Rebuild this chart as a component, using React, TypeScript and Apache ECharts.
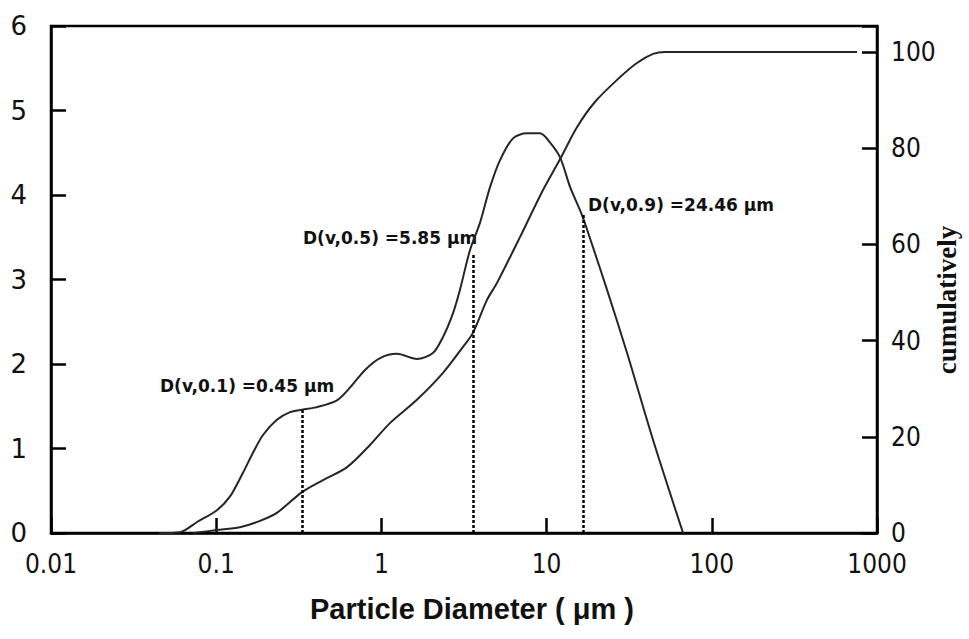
import React, { useEffect, useRef } from "react";
import * as echarts from "echarts";

// Particle size distribution (volume %, left axis)
const diamDist = [0.045, 0.0604, 0.0766, 0.101, 0.121, 0.145, 0.167, 0.192, 0.233, 0.28, 0.331, 0.407, 0.538, 0.645, 0.796, 0.982, 1.24, 1.64, 2.05, 2.36, 2.71, 2.99, 3.44, 3.95, 4.54, 5.22, 6.26, 7.61, 9.12, 10.5, 12.1, 13.9, 16.4, 19.1, 23.2, 30.7, 44.1, 67.0];
const volume = [0, 0.01, 0.13, 0.27, 0.43, 0.71, 0.95, 1.16, 1.34, 1.43, 1.46, 1.49, 1.57, 1.72, 1.93, 2.07, 2.12, 2.06, 2.13, 2.32, 2.6, 2.88, 3.35, 3.67, 4.09, 4.41, 4.67, 4.73, 4.73, 4.62, 4.44, 4.09, 3.76, 3.38, 2.88, 2.13, 1.1, 0];

// Cumulative curve (right axis)
const diamCum = [0.0724, 0.101, 0.139, 0.177, 0.233, 0.331, 0.443, 0.62, 0.853, 1.13, 1.64, 2.36, 3.12, 3.58, 4.35, 5.01, 6.9, 9.51, 12.1, 15.3, 19.6, 26.7, 35.2, 44.1, 52.1, 757];
const cumulative = [0, 0.6, 1.2, 2.3, 4.2, 8.5, 11.0, 13.7, 18.3, 22.9, 27.7, 33.3, 38.7, 41.6, 48.4, 52.0, 61.5, 71.3, 77.8, 84.4, 89.6, 94.2, 97.7, 99.6, 100, 100];

// Dashed marker lines: [diameter, height on left axis]
const markerX = [0.33, 3.58, 16.6];
const markerY = [1.46, 3.31, 3.78];
const markerLabels = ["D(v,0.1) =0.45 μm", "D(v,0.5) =5.85 μm", "D(v,0.9) =24.46 μm"];

const xTickLabels = ["0.01", "0.1", "1", "10", "100", "1000"];

const NARROW = '"DejaVu Sans Condensed", "Liberation Sans Narrow", sans-serif';

export default function App() {
  const ref = useRef<HTMLDivElement>(null);
  useEffect(() => {
    if (!ref.current) return;
    const chart = echarts.init(ref.current, null, { renderer: "svg" });
    const labelPos = [
      { x: 160, y: 386 },
      { x: 303, y: 238 },
      { x: 588, y: 205 },
    ];
    chart.setOption({
      animation: false,
      backgroundColor: "#ffffff",
      grid: {
        left: 51,
        right: 92,
        top: 26,
        bottom: 106,
        show: true,
        borderColor: "#000",
        borderWidth: 2.5,
        backgroundColor: "transparent",
      },
      xAxis: {
        type: "log",
        logBase: 10,
        min: 0.01,
        max: 1000,
        axisLine: { show: true, lineStyle: { color: "#000", width: 2.5 } },
        axisTick: { show: true, inside: true, length: 15, lineStyle: { color: "#000", width: 2.5 } },
        minorTick: { show: false },
        splitLine: { show: false },
        axisLabel: {
          color: "#111",
          fontFamily: NARROW,
          fontSize: 26,
          margin: 18,
          formatter: (v: number) => {
            const l = Math.round(Math.log10(v));
            return xTickLabels[l + 2] ?? "";
          },
        },
      },
      yAxis: [
        {
          type: "value",
          position: "left",
          min: 0,
          max: 6,
          interval: 1,
          axisLine: { show: true, lineStyle: { color: "#000", width: 2.5 } },
          axisTick: { show: true, inside: true, length: 15, lineStyle: { color: "#000", width: 2.5 } },
          splitLine: { show: false },
          axisLabel: { color: "#111", fontFamily: '"DejaVu Sans", Verdana, sans-serif', fontSize: 26, margin: 24 },
        },
        {
          type: "value",
          position: "right",
          min: 0,
          max: 105.4,
          interval: 20,
          axisLine: { show: true, lineStyle: { color: "#000", width: 2.5 } },
          axisTick: { show: true, inside: true, length: 15, lineStyle: { color: "#000", width: 2.5 } },
          splitLine: { show: false },
          axisLabel: {
            color: "#111",
            fontFamily: NARROW,
            fontSize: 26,
            margin: 14,
            formatter: (v: number) => (Math.abs(v % 20) < 1e-6 ? String(v) : ""),
          },
        },
      ],
      series: [
        {
          type: "line",
          yAxisIndex: 0,
          data: diamDist.map((d, i) => [d, volume[i]]),
          showSymbol: false,
          smooth: 0.3,
          lineStyle: { color: "#262626", width: 2 },
          markLine: {
            silent: true,
            symbol: ["none", "none"],
            label: { show: false },
            lineStyle: { type: [3, 2], color: "#000", width: 2.5 },
            data: markerX.map((x, i) => [{ coord: [x, 0] }, { coord: [x, markerY[i]] }]),
          },
        },
        {
          type: "line",
          yAxisIndex: 1,
          data: diamCum.map((d, i) => [d, cumulative[i]]),
          showSymbol: false,
          smooth: 0.3,
          lineStyle: { color: "#262626", width: 2 },
        },
      ],
      graphic: [
        ...markerLabels.map((t, i) => ({
          type: "text",
          x: labelPos[i].x,
          y: labelPos[i].y,
          style: {
            text: t,
            fill: "#111",
            font: 'bold 17px "DejaVu Sans", Verdana, sans-serif',
            verticalAlign: "middle",
          },
        })),
        {
          type: "text",
          x: 472,
          y: 609,
          style: {
            text: "Particle Diameter ( μm )",
            fill: "#111",
            font: 'bold 29px "Liberation Sans", Arial, sans-serif',
            align: "center",
            verticalAlign: "middle",
          },
        },
        {
          type: "text",
          x: 947,
          y: 300,
          rotation: Math.PI / 2,
          style: {
            text: "cumulatively",
            fill: "#111",
            font: 'bold 27px "Liberation Serif", "Times New Roman", serif',
            align: "center",
            verticalAlign: "middle",
          },
        },
      ],
    });
    return () => chart.dispose();
  }, []);
  return (
    <div
      ref={ref}
      style={{ position: "fixed", left: 0, top: 0, width: 969, height: 639, background: "#fff" }}
    />
  );
}
